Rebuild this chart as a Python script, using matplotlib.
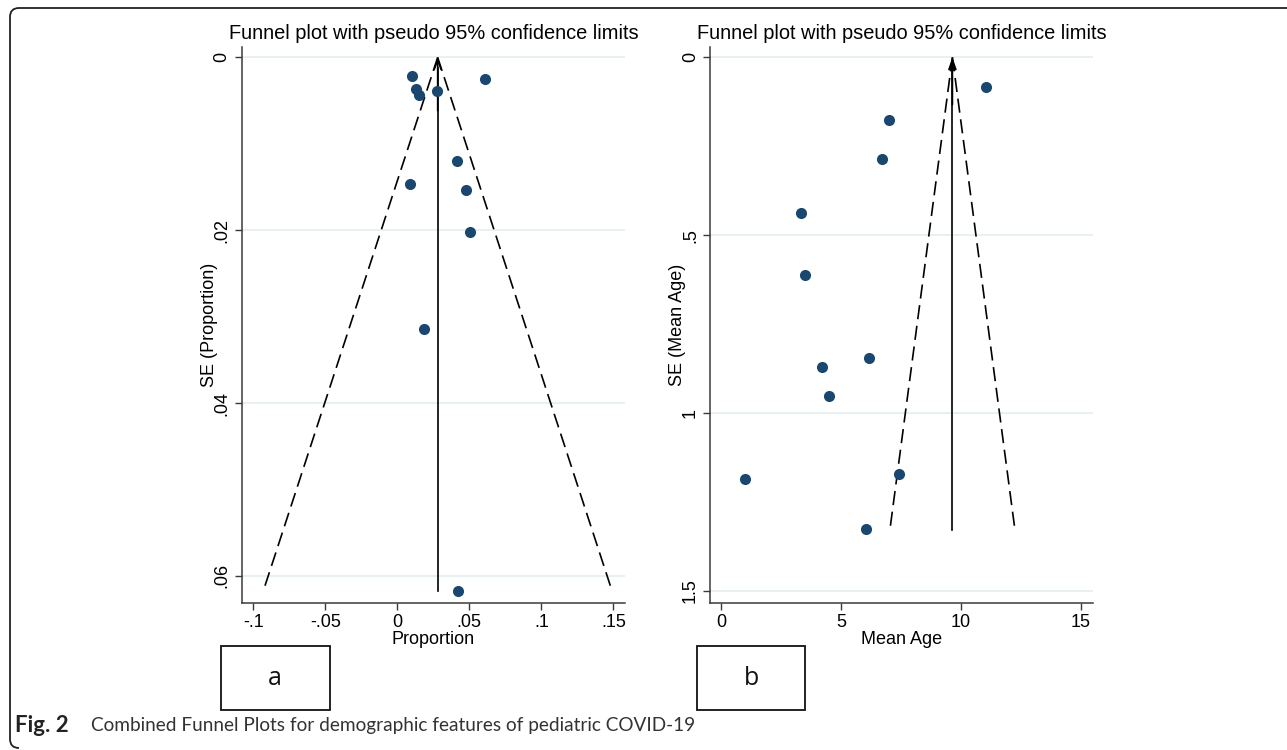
import matplotlib
matplotlib.use("Agg")
import matplotlib.pyplot as plt
import numpy as np
from matplotlib import font_manager
from matplotlib.path import Path
from matplotlib.patches import PathPatch, Rectangle

# ---------------- data ----------------
prop_values = [0.0100, 0.0607, 0.0128, 0.0149, 0.0278, 0.0415, 0.0086, 0.0477, 0.0505, 0.0188, 0.0422]
prop_se = [0.0022, 0.0025, 0.0037, 0.0044, 0.0039, 0.0120, 0.0146, 0.0154, 0.0202, 0.0314, 0.0617]
prop_pooled = 0.0280
prop_se_max = 0.0618
prop_xticks = [-0.1, -0.05, 0, 0.05, 0.1, 0.15]
prop_xticklabels = ["-.1", "-.05", "0", ".05", ".1", ".15"]
prop_yticks = [0, 0.02, 0.04, 0.06]
prop_yticklabels = ["0", ".02", ".04", ".06"]

age_values = [11.03, 7.01, 6.72, 3.32, 3.51, 6.18, 4.21, 4.51, 1.01, 7.43, 6.03]
age_se = [0.084, 0.176, 0.287, 0.437, 0.612, 0.845, 0.870, 0.952, 1.187, 1.172, 1.328]
age_pooled = 9.64
age_se_max = 1.33
age_xticks = [0, 5, 10, 15]
age_xticklabels = ["0", "5", "10", "15"]
age_yticks = [0, 0.5, 1, 1.5]
age_yticklabels = ["0", ".5", "1", "1.5"]

title = "Funnel plot with pseudo 95% confidence limits"
caption_bold = "Fig. 2"
caption_text = "Combined Funnel Plots for demographic features of pediatric COVID-19"

# ---------------- style ----------------
W, H = 1287, 750
fig = plt.figure(figsize=(W / 100, H / 100), dpi=100)
fig.patch.set_facecolor("white")

avail = {f.name for f in font_manager.fontManager.ttflist}
sans = "Liberation Sans" if "Liberation Sans" in avail else "DejaVu Sans"
if "Liberation Sans Narrow" in avail:
    narrow = "Liberation Sans Narrow"
elif "Lato" in avail:
    narrow = "Lato"
else:
    narrow = sans
boxfont = "Open Sans" if "Open Sans" in avail else sans

navy = "#1a476f"
spine_c = "#3a3a3a"
grid_c = "#e6eff1"


def px_axes(l, t, r, b):
    return fig.add_axes([l / W, 1 - b / H, (r - l) / W, (b - t) / H])


def funnel(ax, x, se, pooled, se_max, xlim, ylim, xticks, xtl, yticks, ytl, xlabel, ylabel, open_arrow):
    ax.set_xlim(*xlim)
    ax.set_ylim(*ylim)
    for s in ["top", "right"]:
        ax.spines[s].set_visible(False)
    for s in ["left", "bottom"]:
        ax.spines[s].set_color(spine_c)
        ax.spines[s].set_linewidth(1.1)
    ax.set_xticks(xticks)
    ax.set_xticklabels(xtl, fontsize=13, family=sans)
    ax.set_yticks(yticks)
    ax.set_yticklabels(ytl, fontsize=13, family=sans, rotation=90, va="center")
    ax.tick_params(axis="both", direction="out", length=5, width=1.0, color=spine_c, pad=3)
    ax.yaxis.grid(True, color=grid_c, linewidth=1.3)
    ax.set_axisbelow(True)
    ax.set_xlabel(xlabel, fontsize=13, family=sans, labelpad=0)
    ax.set_ylabel(ylabel, fontsize=13, family=sans, labelpad=-3)
    ax.set_title(title, fontsize=14.4, family=sans, pad=6)

    # pseudo 95% limits
    lo = pooled - 1.96 * se_max
    hi = pooled + 1.96 * se_max
    l1, = ax.plot([pooled, lo], [0, se_max], color="black", lw=1.2)
    l2, = ax.plot([pooled, hi], [0, se_max], color="black", lw=1.2)
    for ln in (l1, l2):
        ln.set_dashes((8.5, 4))
    ax.plot([pooled, pooled], [se_max, 0.02 * se_max], color="black", lw=1.2)
    style = "->" if open_arrow else "-|>"
    ax.annotate("", xy=(pooled, 0), xytext=(pooled, 0.1 * se_max),
                arrowprops=dict(arrowstyle=style + ",head_length=0.7,head_width=0.25",
                                color="black", lw=1.2, shrinkA=0, shrinkB=0))
    ax.plot(x, se, "o", color=navy, markersize=8, markeredgewidth=0, zorder=5)


ax1 = px_axes(241.7, 47, 625, 602.7)
funnel(ax1, prop_values, prop_se, prop_pooled, prop_se_max,
       (-0.108, 0.158), (0.0631, -0.0012),
       prop_xticks, prop_xticklabels, prop_yticks, prop_yticklabels,
       "Proportion", "SE (Proportion)", True)

ax2 = px_axes(710, 47, 1093.3, 602.7)
funnel(ax2, age_values, age_se, age_pooled, age_se_max,
       (-0.46, 15.51), (1.534, -0.029),
       age_xticks, age_xticklabels, age_yticks, age_yticklabels,
       "Mean Age", "SE (Mean Age)", False)

# ---------------- overlay (figure pixel coords) ----------------
ov = fig.add_axes([0, 0, 1, 1], zorder=-1)
ov.set_xlim(0, W)
ov.set_ylim(H, 0)
ov.axis("off")

# rounded frame (top + left)
r = 9
verts = [(W, 8), (10 + r, 8), (10, 8), (10, 8 + r), (10, H - 2 - r), (10, H - 2), (10 + r, H - 2)]
codes = [Path.MOVETO, Path.LINETO, Path.CURVE3, Path.CURVE3, Path.LINETO, Path.CURVE3, Path.CURVE3]
ov.add_patch(PathPatch(Path(verts, codes), fill=False, edgecolor="#222222", lw=1.3))

# panel label boxes
for (l, t, rr, b, lab) in [(220.5, 646, 329.5, 709.5, "a"), (696.7, 645.5, 805.3, 709.5, "b")]:
    ov.add_patch(Rectangle((l, t), rr - l, b - t, fill=False, edgecolor="#111111", lw=1.3))
    ov.text((l + rr) / 2, (t + b) / 2 + 1, lab, ha="center", va="center", fontsize=18, family=boxfont, color="#111111")

# caption
tc = ov.text(91, 726, caption_text, ha="left", va="center", fontsize=13, family=narrow, color="#333333")
tb = ov.text(15, 726, caption_bold, ha="left", va="center", fontsize=13, fontweight="bold", family=narrow, color="#222222")
fig.canvas.draw()
rend = fig.canvas.get_renderer()
for t, target, cap in [(tc, 602, 14.5), (tb, 62, 16.0)]:
    w = t.get_window_extent(rend).width
    t.set_fontsize(min(cap, t.get_fontsize() * target / w))

fig.savefig("out.png", dpi=100, facecolor="white")
